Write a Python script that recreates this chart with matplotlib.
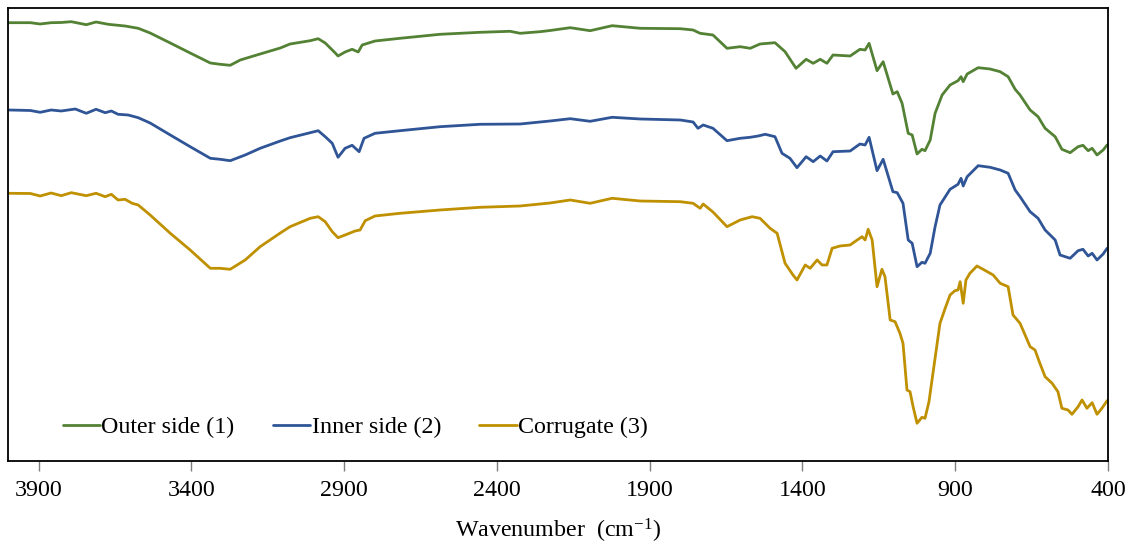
import matplotlib
matplotlib.use("Agg")
import matplotlib.pyplot as plt

plt.rcParams['font.family'] = ['Liberation Serif', 'DejaVu Serif']
plt.rcParams['mathtext.fontset'] = 'custom'
plt.rcParams['mathtext.rm'] = 'Liberation Serif'
plt.rcParams['mathtext.it'] = 'Liberation Serif:italic'

# ---- data (wavenumber in cm-1, transmittance in arbitrary units, offset spectra) ----
outer_wn = [3996, 3927, 3895, 3859, 3826, 3793, 3744, 3712, 3672, 3640, 3617, 3574, 3535, 3469,
            3404, 3338, 3306, 3273,
            3240, 3175, 3109, 3077, 3011, 2985, 2962, 2929, 2920, 2897, 2874, 2854, 2841, 2799,
            2717, 2586, 2455, 2357, 2324, 2259, 2226, 2160, 2095, 2023, 1931, 1800, 1758, 1735,
            1693, 1647, 1604, 1571, 1539, 1490, 1457, 1421, 1388, 1365, 1342, 1320, 1300, 1244,
            1212, 1195, 1182, 1156, 1136, 1104, 1090, 1074, 1054, 1041, 1025, 1009, 999, 982,
            966, 943, 917, 891, 881, 874, 861, 825, 786, 753, 727, 704, 688, 655, 629, 606,
            573, 551, 524, 498, 482, 465, 452, 436, 416, 403]
outer_t = [438.3, 438.3, 437.0, 438.3, 438.5, 439.3, 436.3, 439.0, 436.7, 435.7, 435.0, 432.7, 428.0, 418.0,
           408.0, 398.0, 396.7, 395.7,
           401.0, 407.0, 413.0, 417.0, 420.3, 422.3, 418.0, 408.0, 405.0, 409.0, 411.7, 409.0, 416.0, 420.0,
           422.7, 426.7, 428.7, 429.7, 427.7, 429.3, 430.5, 433.3, 430.3, 435.3, 432.7, 432.3, 431.0, 427.7,
           426.0, 412.7, 414.3, 412.7, 417.0, 418.3, 409.3, 392.7, 401.7, 397.7, 401.7, 397.7, 406.0, 405.0,
           411.7, 411.0, 417.7, 390.3, 399.3, 367.0, 369.3, 357.7, 327.7, 326.0, 307.0, 311.7, 310.3, 321.0,
           347.7, 366.0, 376.0, 380.3, 384.3, 379.3, 387.0, 393.3, 392.0, 389.3, 384.3, 371.7, 366.0, 351.0, 344.3, 332.7,
           324.3, 311.7, 308.3, 314.3, 315.7, 310.3, 312.7, 306.0, 311.0, 316.0]

inner_wn = [3996, 3927, 3895, 3859, 3826, 3780, 3744, 3712, 3682, 3662, 3640, 3607, 3574, 3535,
            3469, 3404, 3338, 3306, 3273,
            3224, 3175, 3109, 3077, 3011, 2985, 2962, 2939, 2920, 2897, 2874, 2851, 2835, 2799,
            2717, 2586, 2455, 2324, 2226, 2160, 2095, 2023, 1931, 1800, 1758, 1742, 1725, 1693,
            1647, 1604, 1571, 1545, 1522, 1490, 1467, 1441, 1418, 1388, 1365, 1342, 1320, 1300,
            1244, 1212, 1195, 1182, 1156, 1136, 1104, 1090, 1071, 1054, 1041, 1025, 1009, 999,
            982, 966, 950, 917, 891, 881, 874, 861, 825, 786, 753, 727, 704, 688, 655, 629,
            606, 573, 557, 524, 498, 482, 465, 452, 436, 416, 403]
inner_t = [351.0, 350.5, 348.7, 351.0, 350.0, 352.0, 347.7, 351.7, 348.3, 350.0, 346.7, 346.0, 343.3, 338.0,
           326.0, 314.3, 302.7, 301.7, 300.3,
           306.0, 312.7, 320.0, 323.3, 328.3, 330.3, 324.3, 317.7, 303.7, 312.7, 315.7, 309.3, 322.7, 327.7,
           330.3, 334.3, 336.7, 337.0, 340.0, 342.3, 339.7, 343.7, 342.0, 341.0, 339.0, 332.7, 336.0, 332.7,
           320.3, 322.7, 323.7, 325.0, 326.7, 324.3, 307.7, 302.7, 293.3, 304.3, 299.3, 305.0, 300.0, 309.3,
           310.0, 317.0, 316.0, 323.7, 290.3, 301.7, 269.3, 268.3, 257.7, 221.0, 217.7, 194.3, 198.7, 197.7,
           207.7, 234.3, 256.0, 271.7, 276.7, 282.7, 275.0, 284.3, 295.3, 293.7, 291.0, 287.7, 271.0, 264.3, 249.3, 242.7,
           231.0, 221.0, 206.0, 202.7, 210.3, 211.7, 205.0, 207.7, 201.0, 207.0, 212.7]

corr_wn = [3996, 3927, 3895, 3859, 3826, 3793, 3744, 3712, 3682, 3662, 3640, 3617, 3594, 3574,
           3535, 3469, 3404, 3338, 3306,
           3273, 3224, 3175, 3109, 3077, 3011, 2985, 2962, 2939, 2920, 2897, 2864, 2848, 2831,
           2799, 2717, 2586, 2455, 2324, 2226, 2160, 2095, 2023, 1931, 1800, 1758, 1735, 1725,
           1693, 1647, 1604, 1565, 1539, 1506, 1483, 1457, 1431, 1418, 1391, 1375, 1352, 1336,
           1320, 1303, 1277, 1244, 1221, 1205, 1195, 1185, 1172, 1156, 1140, 1130, 1113, 1097,
           1081, 1071, 1058, 1048, 1038, 1025, 1009, 999, 986, 973, 950, 933, 917, 901,
           891, 884, 874, 865, 852, 829, 809, 776, 753, 727, 711, 688, 655, 639, 623, 606,
           583, 564, 551, 531, 518, 498, 485, 469, 452, 436, 420, 403]
corr_t = [267.7, 267.5, 265.0, 268.0, 265.3, 268.3, 265.3, 267.7, 264.3, 266.7, 261.0, 261.7, 257.7, 256.0,
          246.0, 227.7, 211.0, 192.7, 192.7,
          191.7, 201.0, 214.3, 228.0, 234.3, 242.7, 244.3, 239.3, 229.3, 223.3, 226.0, 230.0, 231.0, 240.3,
          245.0, 247.7, 251.0, 253.7, 255.0, 258.0, 261.0, 257.7, 262.7, 260.0, 259.3, 257.7, 252.7, 257.0,
          249.0, 234.3, 241.0, 244.3, 242.7, 232.7, 227.7, 197.7, 186.0, 181.0, 196.0, 192.7, 201.0, 196.0,
          196.0, 212.7, 215.0, 216.0, 221.0, 224.3, 221.0, 231.7, 221.0, 174.3, 191.7, 184.3, 141.0, 139.3,
          127.7, 117.7, 71.0, 69.3, 54.3, 37.7, 43.7, 42.7, 59.3, 87.7, 137.7, 152.7, 166.0, 170.3,
          171.0, 179.3, 157.7, 181.0, 187.7, 195.0, 191.7, 186.0, 177.7, 174.3, 146.0, 137.7, 114.3, 111.0, 97.7, 84.3,
          77.7, 69.3, 52.7, 51.0, 46.7, 54.3, 61.0, 52.7, 58.3, 46.7, 52.7, 60.3]

series_labels = ['Outer side (1)', 'Inner side (2)', 'Corrugate (3)']
tick_values = [3900, 3400, 2900, 2400, 1900, 1400, 900, 400]

colors = ['#548235', '#2F5597', '#BF9000']

fig = plt.figure(figsize=(11.34, 5.44), dpi=100)
ax = fig.add_axes([0.0071, 0.1526, 0.9700, 0.8327])

for wn, t, lab, c in zip([outer_wn, inner_wn, corr_wn], [outer_t, inner_t, corr_t], series_labels, colors):
    ax.plot(wn, t, color=c, lw=2.0, label=lab, solid_joinstyle='round', solid_capstyle='round')

ax.set_xlim(4000, 400)
ax.set_ylim(0, 453)
ax.set_yticks([])
ax.set_xticks(tick_values)
ax.set_xticklabels([str(v) for v in tick_values])
ax.tick_params(axis='x', direction='out', length=7, width=1, color='#7f7f7f',
               labelsize=17.3, pad=7)
for s in ax.spines.values():
    s.set_color('black')
    s.set_linewidth(1.3)

ax.set_xlabel('Wavenumber  (cm$^{\\mathregular{-1}}$)', fontsize=17.3, labelpad=11)

ax.legend(loc='center left', bbox_to_anchor=(0.05, 0.075), ncol=3, frameon=False,
          fontsize=17.3, handlelength=1.55, handletextpad=0.05, columnspacing=1.6,
          borderpad=0, borderaxespad=0)

fig.savefig('out.png', dpi=100)
